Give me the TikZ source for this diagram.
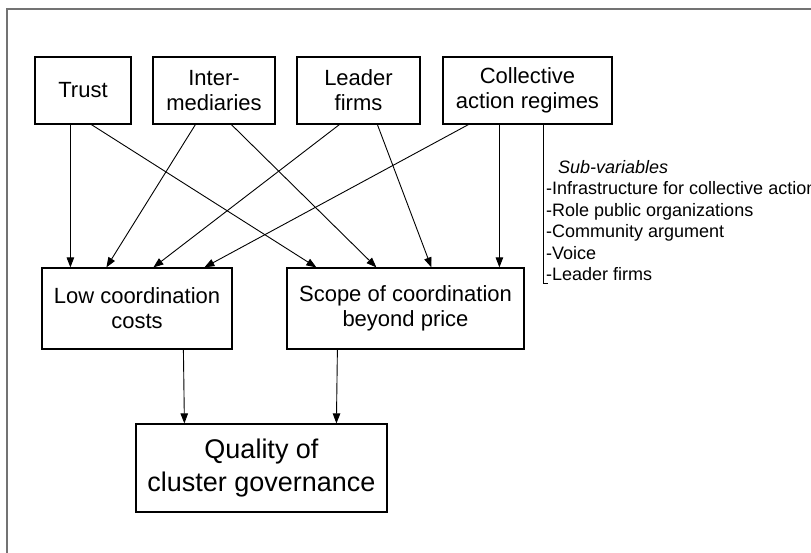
\documentclass[tikz,border=0pt]{standalone}
\usepackage{fontspec}
\setmainfont{Liberation Sans}
\usetikzlibrary{arrows.meta}
\begin{document}
\begin{tikzpicture}[x=1pt,y=-1pt,
  box/.style={draw=black,line width=1.2pt,inner sep=0pt,align=center,
    font=\fontsize{22}{25}\selectfont},
  bigbox/.style={box,font=\fontsize{27}{33}\selectfont},
  link/.style={line width=0.9pt,-{Triangle[length=10pt,width=7.5pt]}},
  frameline/.style={draw=black!55,line width=1.4pt}]
\useasboundingbox (0,0) rectangle (811,553);
% outer frame (top and left edges)
\draw[frameline] (7,553) -- (7,9) -- (811,9);

% determinant boxes
\node[box,minimum width=96pt,minimum height=67pt] (trust) at (83,90.5) {Trust};
\node[box,minimum width=122pt,minimum height=67pt] (inter) at (214,90.5) {Inter-\\mediaries};
\node[box,minimum width=123pt,minimum height=67pt] (leader) at (358.5,90.5) {Leader\\firms};
\node[box,minimum width=169pt,minimum height=67pt] (coll) at (527.5,90.5) {Collective\\action regimes};

% intermediate outcomes
\node[box,minimum width=190pt,minimum height=81pt] (low) at (137,308.5) {Low coordination\\costs};
\node[box,minimum width=237pt,minimum height=81pt] (scope) at (405.5,308.5) {Scope of coordination\\beyond price};

% final outcome
\node[bigbox,minimum width=251pt,minimum height=88pt] (quality) at (261.5,468) {Quality of\\cluster governance};

% influences on the two outcomes
\draw[link] ([xshift=36pt]trust.south west) -- ([xshift=29pt]low.north west);
\draw[link] ([xshift=57pt]trust.south west) -- ([xshift=30pt]scope.north west);
\draw[link] ([xshift=43pt]inter.south west) -- ([xshift=65pt]low.north west);
\draw[link] ([xshift=79pt]inter.south west) -- ([xshift=90pt]scope.north west);
\draw[link] ([xshift=43pt]leader.south west) -- ([xshift=112pt]low.north west);
\draw[link] ([xshift=81pt]leader.south west) -- ([xshift=145pt]scope.north west);
\draw[link] ([xshift=26pt]coll.south west) -- ([xshift=163pt]low.north west);
\draw[link] ([xshift=57pt]coll.south west) -- ([xshift=213pt]scope.north west);
\draw[link] ([xshift=142pt]low.south west) -- ([xshift=49pt]quality.north west);
\draw[link] ([xshift=51pt]scope.south west) -- ([xshift=201pt]quality.north west);

% sub-variables of collective action regimes
\coordinate (subend) at (548,283);
\draw[line width=0.9pt] ([xshift=101pt]coll.south west) |- (subend);
\node[anchor=north west,inner sep=0pt,align=left,
  font=\fontsize{18}{21.5}\selectfont] (subvars) at (546,160)
  {\hspace{12pt}\textit{Sub-variables}\\
   -Infrastructure for collective action\\
   -Role public organizations\\
   -Community argument\\
   -Voice\\
   -Leader firms};
\end{tikzpicture}
\end{document}
